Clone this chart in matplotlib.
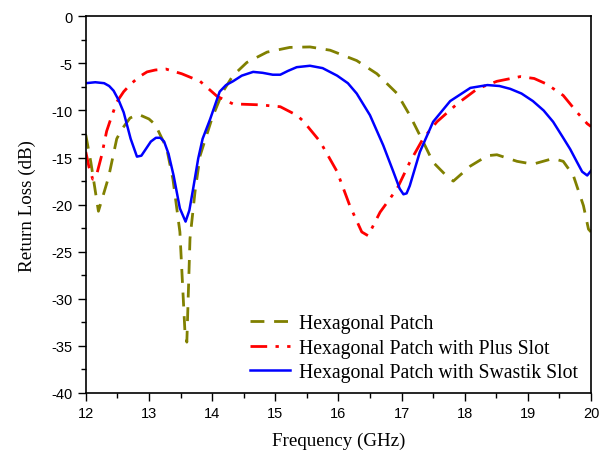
import matplotlib
matplotlib.use("Agg")
import matplotlib.pyplot as plt
from matplotlib.ticker import MultipleLocator

plt.rcParams["axes.unicode_minus"] = False

# Hexagonal Patch
hex_freq = [12.0, 12.08, 12.2, 12.36, 12.49, 12.57, 12.7, 12.83, 13.0, 13.1, 13.28,
            13.38, 13.49, 13.57, 13.6, 13.65, 13.73, 13.81, 14.0, 14.17, 14.33, 14.55,
            14.87, 15.23, 15.55, 15.87, 16.29, 16.61, 16.93, 17.13, 17.34, 17.5, 17.72,
            17.82, 18.09, 18.36, 18.51, 18.83, 19.08, 19.4, 19.56, 19.72, 19.88, 19.96, 20.0]
hex_rl = [-12.6, -15.5, -20.7, -17.1, -13.0, -12.0, -10.8, -10.4, -10.9, -11.5, -14.0,
          -17.3, -22.9, -33.5, -34.6, -23.6, -18.6, -14.8, -10.8, -8.0, -6.3, -4.9,
          -3.8, -3.3, -3.25, -3.6, -4.7, -6.1, -8.2, -10.5, -13.3, -15.5, -17.0,
          -17.5, -15.9, -14.8, -14.7, -15.4, -15.7, -15.1, -15.4, -16.9, -20.1, -22.6, -22.9]

# Hexagonal Patch with Plus Slot
plus_freq = [12.0, 12.05, 12.11, 12.18, 12.25, 12.33, 12.38, 12.49, 12.6, 12.71, 12.85,
             12.97, 13.1, 13.27, 13.52, 13.81, 14.08, 14.33, 14.76, 15.08, 15.34, 15.44,
             15.71, 15.98, 16.18, 16.37, 16.47, 16.66, 16.93, 17.13, 17.34, 17.56, 17.88,
             18.2, 18.51, 18.88, 19.1, 19.3, 19.56, 19.78, 19.94, 20.0]
plus_rl = [-14.4, -16.0, -17.3, -16.6, -14.8, -12.2, -11.2, -9.1, -8.0, -7.2, -6.4,
           -5.9, -5.7, -5.6, -6.1, -6.9, -8.5, -9.3, -9.4, -9.6, -10.5, -11.1,
           -13.3, -16.5, -20.1, -22.9, -23.3, -20.8, -18.3, -15.5, -13.0, -11.2, -9.3,
           -7.7, -6.9, -6.4, -6.6, -7.2, -8.4, -10.2, -11.4, -11.7]

# Hexagonal Patch with Swastik Slot
swas_freq = [12.0, 12.15, 12.29, 12.37, 12.44, 12.52, 12.6, 12.71, 12.81, 12.88, 12.95,
             13.03, 13.11, 13.18, 13.24, 13.31, 13.39, 13.49, 13.58, 13.64, 13.7, 13.78,
             13.85, 13.97, 14.12, 14.22, 14.33, 14.47, 14.65, 14.8, 14.96, 15.08, 15.2,
             15.34, 15.55, 15.75, 15.98, 16.15, 16.29, 16.5, 16.71, 16.87, 16.97, 17.03,
             17.08, 17.13, 17.29, 17.5, 17.77, 18.09, 18.36, 18.55, 18.72, 18.9, 19.08,
             19.25, 19.4, 19.55, 19.67, 19.78, 19.86, 19.94, 20.0]
swas_rl = [-7.1, -7.0, -7.1, -7.4, -7.9, -8.9, -10.2, -13.0, -14.9, -14.8, -14.1,
           -13.3, -12.9, -12.9, -13.3, -14.6, -16.9, -20.4, -21.8, -20.6, -18.3, -15.1,
           -13.0, -10.9, -8.0, -7.3, -6.9, -6.3, -5.9, -6.0, -6.2, -6.2, -5.8,
           -5.4, -5.25, -5.5, -6.3, -7.1, -8.2, -10.5, -13.7, -16.5, -18.3, -18.9,
           -18.8, -18.0, -14.4, -11.2, -9.0, -7.6, -7.3, -7.4, -7.7, -8.2, -9.0,
           -10.0, -11.2, -12.8, -14.1, -15.5, -16.5, -16.9, -16.4]

labels = ["Hexagonal Patch", "Hexagonal Patch with Plus Slot",
          "Hexagonal Patch with Swastik Slot"]

fig = plt.figure(figsize=(6.0, 4.56), dpi=100)
ax = fig.add_axes([0.143, 0.136, 0.842, 0.826])

ax.plot(hex_freq, hex_rl, color="#808000", lw=2.0, ls=(0, (5, 3.5)), label=labels[0])
ax.plot(plus_freq, plus_rl, color="#ff0000", lw=2.0, ls=(0, (6, 3, 1.2, 3)), label=labels[1])
ax.plot(swas_freq, swas_rl, color="#0000ff", lw=1.8, ls="-", label=labels[2])

ax.set_xlim(12, 20)
ax.set_ylim(-40, 0)
ax.xaxis.set_major_locator(MultipleLocator(1))
ax.xaxis.set_minor_locator(MultipleLocator(0.5))
ax.yaxis.set_major_locator(MultipleLocator(5))
ax.yaxis.set_minor_locator(MultipleLocator(2.5))
ax.tick_params(which="major", direction="out", length=6, width=1, labelsize=10.5,
               top=False, right=False)
ax.tick_params(which="minor", direction="out", length=3.5, width=1, top=False, right=False)
for lab in ax.get_xticklabels() + ax.get_yticklabels():
    lab.set_fontfamily("Liberation Sans")
for sp in ax.spines.values():
    sp.set_linewidth(1.2)

ax.set_xlabel("Frequency (GHz)", fontfamily="Liberation Serif", fontsize=13.7, labelpad=8)
ax.set_ylabel("Return Loss (dB)", fontfamily="Liberation Serif", fontsize=13.7, labelpad=11)

ax.legend(loc="upper left", bbox_to_anchor=(0.29, 0.256), frameon=False,
          prop={"family": "Liberation Serif", "size": 14.2}, handlelength=2.0,
          labelspacing=0.28, handletextpad=0.5)

fig.savefig("out.png", dpi=100)
